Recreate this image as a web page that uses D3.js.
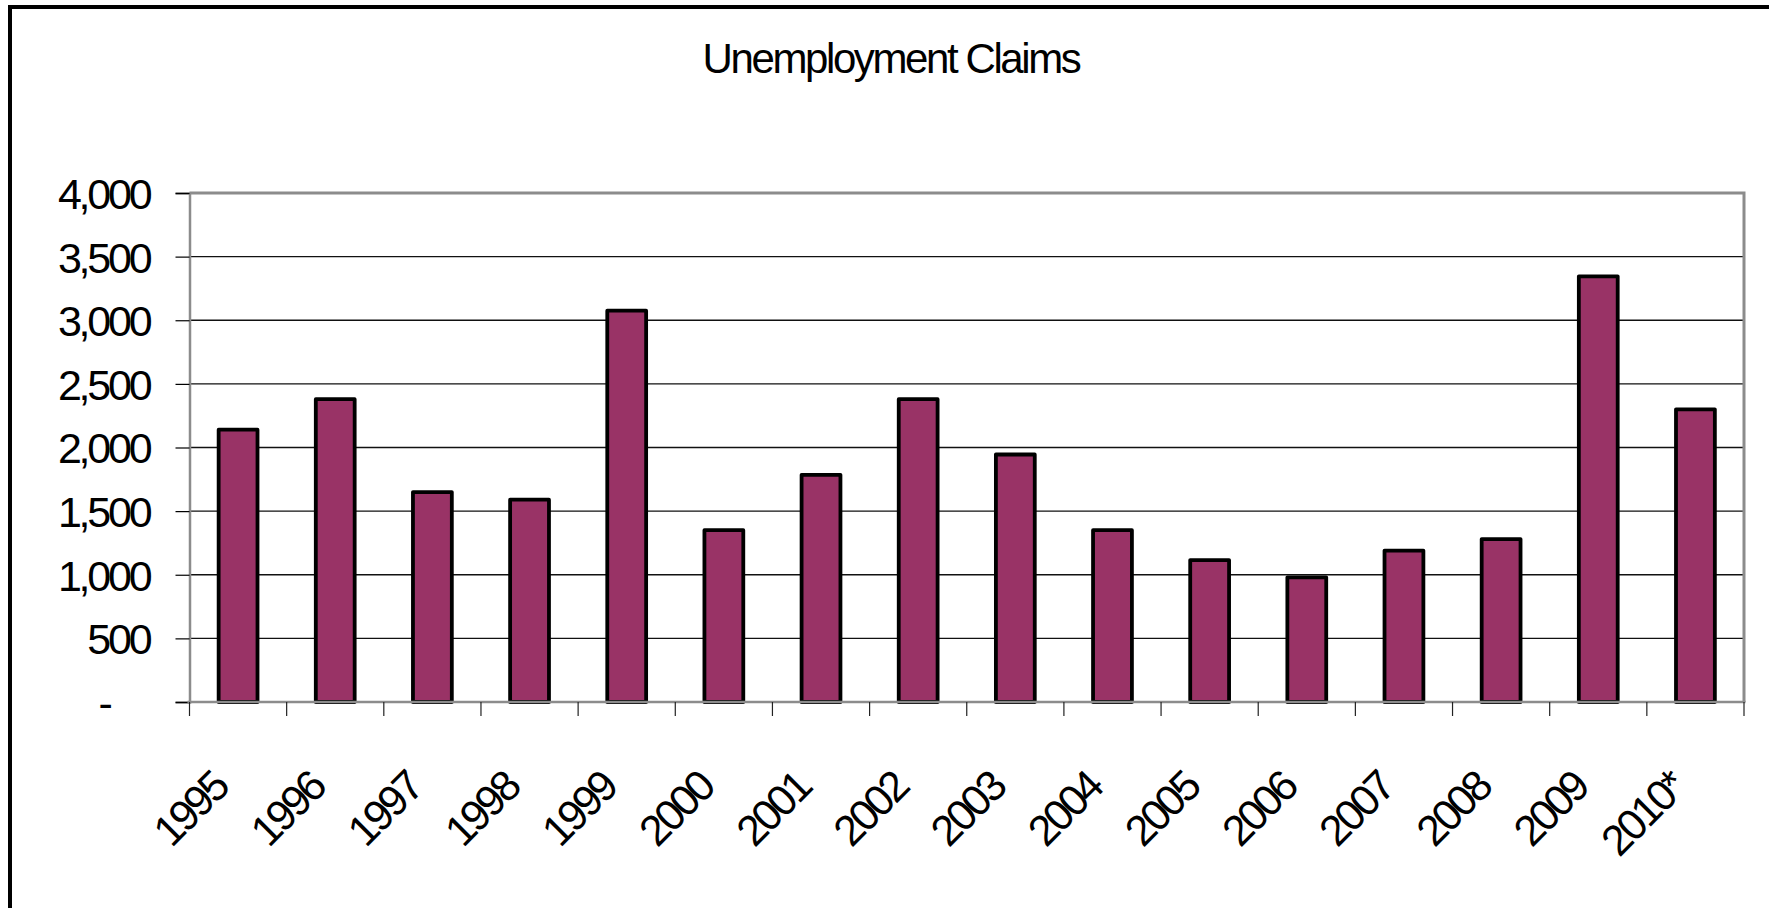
<!DOCTYPE html>
<html>
<head>
<meta charset="utf-8">
<script src="https://cdn.jsdelivr.net/npm/d3@7"></script>
<style>
  html, body { margin: 0; padding: 0; background: #ffffff; }
  svg { display: block; }
  text { font-family: "Liberation Sans", Arial, sans-serif; fill: #000; }
</style>
</head>
<body>
<script>
// ---- data ----
const categories = ["1995", "1996", "1997", "1998", "1999", "2000", "2001", "2002",
                    "2003", "2004", "2005", "2006", "2007", "2008", "2009", "2010*"];
const claims = [2140, 2380, 1650, 1590, 3075, 1350, 1785, 2380,
                1945, 1350, 1115, 980, 1190, 1280, 3345, 2300];
const yTickValues = [0, 500, 1000, 1500, 2000, 2500, 3000, 3500, 4000];
const titleText = "Unemployment Claims";

// ---- layout ----
const W = 1769, H = 908;
const plot = { left: 189.5, right: 1744, top: 193, bottom: 702 };

const svg = d3.select("body").append("svg")
  .attr("width", W).attr("height", H);

svg.append("rect").attr("width", W).attr("height", H).attr("fill", "#fff");

// outer frame (right and bottom edges fall outside the picture)
svg.append("rect")
  .attr("x", 10).attr("y", 7)
  .attr("width", W + 40).attr("height", H + 40)
  .attr("fill", "none").attr("stroke", "#000").attr("stroke-width", 4);

// title
svg.append("text")
  .attr("x", 891).attr("y", 73)
  .attr("text-anchor", "middle")
  .style("font-size", "42px")
  .style("letter-spacing", "-2.4px")
  .text(titleText);

const x = d3.scaleBand()
  .domain(categories)
  .range([plot.left, plot.right])
  .paddingInner(0.6)
  .paddingOuter(0.3);

const y = d3.scaleLinear()
  .domain([0, 4000])
  .range([plot.bottom, plot.top]);

// gridlines
svg.append("g")
  .selectAll("line")
  .data(yTickValues.filter(v => v > 0 && v < 4000))
  .join("line")
  .attr("x1", plot.left).attr("x2", plot.right)
  .attr("y1", d => y(d)).attr("y2", d => y(d))
  .attr("stroke", "#111").attr("stroke-width", 1.3);

// bars
svg.append("g")
  .selectAll("rect")
  .data(categories.map((c, i) => ({ c, v: claims[i] })))
  .join("rect")
  .attr("x", d => x(d.c))
  .attr("y", d => y(d.v))
  .attr("width", x.bandwidth())
  .attr("height", d => y(0) - y(d.v))
  .attr("fill", "#993366")
  .attr("stroke", "#000")
  .attr("stroke-width", 3.8)
  .attr("stroke-linejoin", "round");

// plot border: top & right
svg.append("path")
  .attr("d", `M${plot.left},${plot.top}H${plot.right}V${plot.bottom}`)
  .attr("fill", "none").attr("stroke", "#8c8c8c").attr("stroke-width", 3);

// y axis
const yAxis = d3.axisLeft(y)
  .tickValues(yTickValues)
  .tickSize(14)
  .tickPadding(26)
  .tickFormat(d => d === 0 ? "-" : d3.format(",")(d));

const gy = svg.append("g")
  .attr("transform", `translate(${plot.left},0)`)
  .call(yAxis);
gy.select(".domain").attr("stroke", "#8c8c8c").attr("stroke-width", 2.5);
gy.selectAll(".tick line").attr("stroke", "#000").attr("stroke-width", 1.2);
gy.selectAll(".tick text")
  .attr("fill", "#000")
  .attr("dy", "0.36em")
  .style("font-size", "43px")
  .style("letter-spacing", "-3.2px")
  .style("font-family", "'Liberation Sans', Arial, sans-serif");
// accounting-style zero: dash followed by two digit spaces
gy.selectAll(".tick text").filter(d => d === 0).attr("dx", -40);

// x axis: line and tick marks at category boundaries
svg.append("line")
  .attr("x1", plot.left - 2).attr("x2", plot.right + 1.5)
  .attr("y1", plot.bottom).attr("y2", plot.bottom)
  .attr("stroke", "#8c8c8c").attr("stroke-width", 2.5);

const boundaries = categories.map(c => x(c) - x.step() * x.paddingOuter())
  .concat([plot.right]);
svg.append("g")
  .selectAll("line")
  .data(boundaries)
  .join("line")
  .attr("x1", d => d).attr("x2", d => d)
  .attr("y1", plot.bottom).attr("y2", plot.bottom + 14)
  .attr("stroke", "#222").attr("stroke-width", 1.2);

// x labels, rotated
svg.append("g")
  .selectAll("text")
  .data(categories)
  .join("text")
  .attr("transform", c => `translate(${x(c) + x.bandwidth() / 2 - 8},790) rotate(-45)`)
  .attr("text-anchor", "end")
  .style("font-size", "43px")
  .style("letter-spacing", "-3.2px")
  .text(c => c);
</script>
</body>
</html>
